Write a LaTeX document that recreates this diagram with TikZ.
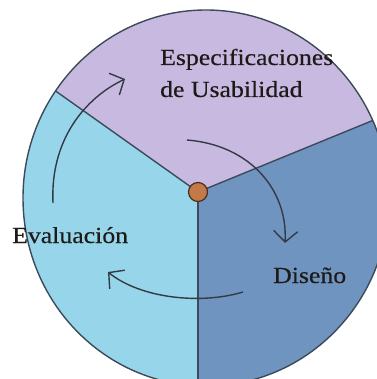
\documentclass[tikz,border=0pt]{standalone}
\usepackage{fontspec}
\setmainfont{Liberation Serif}[FakeStretch=1.12,FakeBold=0.4]
\usetikzlibrary{arrows.meta}
\definecolor{purp}{HTML}{C8B9E1}
\definecolor{cyanl}{HTML}{97D6EA}
\definecolor{steel}{HTML}{7094C0}
\definecolor{edge}{HTML}{3C4A5A}
\definecolor{hubfill}{HTML}{C47A48}
\definecolor{hubedge}{HTML}{4A3020}
\definecolor{arrowc}{HTML}{333A44}
\definecolor{txt}{HTML}{1E1A18}
\tikzset{
  label/.style={inner sep=0pt, anchor=base west, text=txt, font=\fontsize{23}{27}\selectfont},
  cyclearrow/.style={draw=arrowc, line width=1.4pt, -{Straight Barb[length=11pt,width=24pt,line width=1.4pt]}},
  divider/.style={draw=edge, line width=1.4pt}
}
\begin{document}
\begin{tikzpicture}[x=1pt,y=-1pt]
\useasboundingbox (0,0) rectangle (376,379);
\coordinate (O) at (206,198);
\coordinate (C) at (198,192);
\coordinate (UL) at (-84,-8);
\coordinate (UR) at (540,52);
\coordinate (B) at (198,600);
\begin{scope}
  \clip (O) ellipse[x radius=183pt, y radius=188pt];
  \fill[purp] (C) -- (UL) -- (-84,-300) -- (540,-300) -- (UR) -- cycle;
  \fill[steel] (C) -- (UR) -- (540,600) -- (B) -- cycle;
  \fill[cyanl] (C) -- (B) -- (-84,600) -- (UL) -- cycle;
  \draw[divider] (C) -- (UL);
  \draw[divider] (C) -- (UR);
  \draw[divider] (C) -- (B);
\end{scope}
\draw[draw=edge, line width=1.4pt] (O) ellipse[x radius=183pt, y radius=188pt];
\node[circle, minimum size=19pt, inner sep=0pt, fill=hubfill, draw=hubedge, line width=1.2pt] (hub) at (C) {};

\node[label] (esp) at (160,65) {Especificaciones};
\node[label] (usa) at (160,97) {de Usabilidad};
\node[label] (eva) at (12,243) {Evaluación};
\node[label] (dis) at (273,283) {Diseño};

\coordinate (a1s) at (53,203);
\coordinate (a1e) at (125,79);
\coordinate (a2s) at (187,140);
\coordinate (a2e) at (285,243);
\coordinate (a3s) at (243,292);
\coordinate (a3e) at (108,272);
\draw[cyclearrow] (a1s) .. controls (50,140) and (85,98) .. (a1e);
\draw[cyclearrow] (a2s) .. controls (250,145) and (288,190) .. (a2e);
\draw[cyclearrow] (a3s) .. controls (200,305) and (140,298) .. (a3e);
\end{tikzpicture}
\end{document}
